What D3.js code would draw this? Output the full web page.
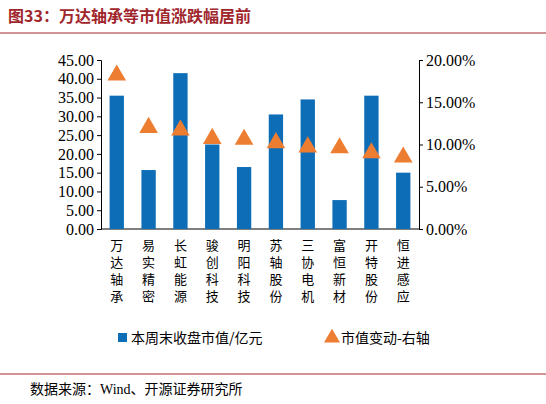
<!DOCTYPE html><html><head><meta charset="utf-8">
<script src="https://cdn.jsdelivr.net/npm/d3@7"></script>
<style>body{margin:0;background:#fff}</style></head><body>
<svg id="c" width="546" height="404"></svg>
<script>
const categories=["万达轴承","易实精密","长虹能源","骏创科技","明阳科技","苏轴股份","三协电机","富恒新材","开特股份","恒进感应"];
const marketCap=[35.5,15.7,41.5,22.5,16.5,30.5,34.5,7.7,35.5,15.0];
const change=[18.2,12.0,11.7,10.7,10.6,10.2,9.7,9.6,9.0,8.5];
const leftTicks=[0,5,10,15,20,25,30,35,40,45];
const rightTicks=[0,5,10,15,20];
const svg=d3.select("#c");
const serif="'Liberation Serif','Noto Sans CJK SC',serif";
svg.append("text").attr("x",8).attr("y",22).attr("fill","#a0262c").attr("font-size",16).attr("font-weight","bold").attr("font-family","'Noto Sans CJK SC'").text("图33：万达轴承等市值涨跌幅居前");
svg.append("line").attr("x1",0).attr("x2",546).attr("y1",33).attr("y2",33).attr("stroke","#a0262c").attr("stroke-width",1);
const x=d3.scaleBand().domain(categories).range([101,419]).paddingInner(0.55).paddingOuter(0.27);
const y=d3.scaleLinear().domain([0,45]).range([229,60]);
const y2=d3.scaleLinear().domain([0,20]).range([229,60]);
const g=svg.append("g").attr("font-family",serif);
const la=g.append("g").attr("transform","translate(101,0)").call(d3.axisLeft(y).tickValues(leftTicks).tickFormat(d3.format(".2f")).tickSizeOuter(0).tickSize(4));
const ra=g.append("g").attr("transform","translate(419,0)").call(d3.axisRight(y2).tickValues(rightTicks).tickFormat(d=>d.toFixed(2)+"%").tickSizeOuter(0).tickSize(4));
[la,ra].forEach(a=>{a.selectAll("text").attr("font-size",16).attr("font-family",serif).attr("fill","#000");a.selectAll("line,path").attr("stroke","#000");});
g.append("line").attr("x1",101).attr("x2",419).attr("y1",229).attr("y2",229).attr("stroke","#000");
g.selectAll(".bar").data(categories).enter().append("rect").attr("x",d=>x(d)).attr("width",x.bandwidth()).attr("y",(d,i)=>y(marketCap[i])).attr("height",(d,i)=>229-y(marketCap[i])).attr("fill","#0d6db7");
const tri=d3.symbol().type(d3.symbolTriangle).size(150);
g.selectAll(".tri").data(categories).enter().append("path").attr("d",tri).attr("transform",(d,i)=>`translate(${x(d)+x.bandwidth()/2},${y2(change[i])})`).attr("fill","#ed7d31");
categories.forEach(c=>{[...c].forEach((ch,j)=>g.append("text").attr("font-size",13).attr("font-family","'Noto Sans CJK SC'").attr("text-anchor","middle").attr("x",x(c)+x.bandwidth()/2).attr("y",250+j*17).text(ch));});
svg.append("rect").attr("x",118).attr("y",333).attr("width",9).attr("height",9).attr("fill","#0d6db7");
svg.append("text").attr("x",131).attr("y",343).attr("font-size",14).attr("font-family","'Noto Sans CJK SC'").text("本周末收盘市值/亿元");
svg.append("path").attr("d",d3.symbol().type(d3.symbolTriangle).size(110)).attr("transform","translate(332,338)").attr("fill","#ed7d31");
svg.append("text").attr("x",341).attr("y",343).attr("font-size",14).attr("font-family","'Noto Sans CJK SC'").text("市值变动-右轴");
svg.append("line").attr("x1",0).attr("x2",546).attr("y1",374).attr("y2",374).attr("stroke","#a0262c");
svg.append("text").attr("x",30).attr("y",394).attr("font-size",14).attr("font-family","'Liberation Serif','Noto Sans CJK SC'").text("数据来源：Wind、开源证券研究所");
</script></body></html>
